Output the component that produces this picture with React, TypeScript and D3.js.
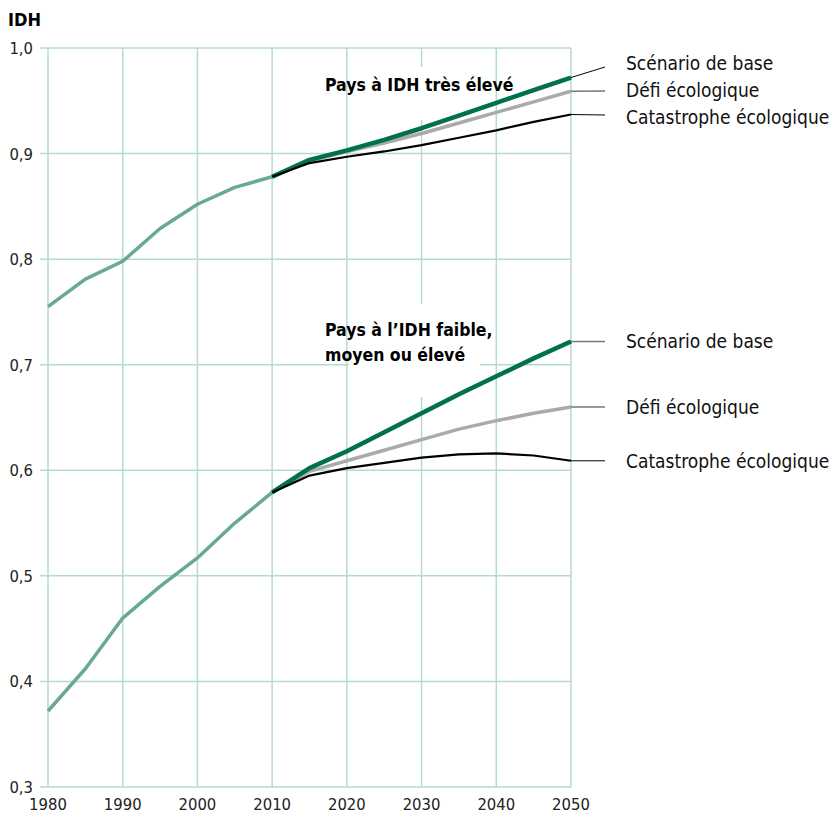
import { useMemo } from "react";
import * as d3 from "d3";

const WIDTH = 831;
const HEIGHT = 815;
const MARGIN = { top: 48, right: 260, bottom: 28, left: 48 };

const FONT = "'Liberation Sans Narrow', 'DejaVu Sans Condensed', 'Noto Sans', sans-serif";

const yearsHist = [1980, 1985, 1990, 1995, 2000, 2005, 2010];
const yearsProj = [2010, 2015, 2020, 2025, 2030, 2035, 2040, 2045, 2050];
const xTicks = [1980, 1990, 2000, 2010, 2020, 2030, 2040, 2050];
const yTicks = [0.3, 0.4, 0.5, 0.6, 0.7, 0.8, 0.9, 1.0];

// Pays à IDH très élevé
const highHist = [0.755, 0.781, 0.798, 0.829, 0.852, 0.868, 0.878];
const highBase = [0.878, 0.894, 0.903, 0.913, 0.924, 0.936, 0.948, 0.96, 0.972];
const highDefi = [0.878, 0.893, 0.902, 0.91, 0.919, 0.929, 0.939, 0.949, 0.959];
const highCata = [0.878, 0.891, 0.897, 0.902, 0.908, 0.915, 0.922, 0.93, 0.937];

// Pays à l'IDH faible, moyen ou élevé
const lowHist = [0.372, 0.412, 0.46, 0.49, 0.517, 0.55, 0.579];
const lowBase = [0.579, 0.602, 0.618, 0.636, 0.654, 0.672, 0.689, 0.706, 0.722];
const lowDefi = [0.579, 0.599, 0.609, 0.619, 0.629, 0.639, 0.647, 0.654, 0.66];
const lowCata = [0.579, 0.595, 0.602, 0.607, 0.612, 0.615, 0.616, 0.614, 0.609];

const scenarioNames = ["Scénario de base", "Défi écologique", "Catastrophe écologique"];

const COLORS = {
  grid: "#b5dbd1",
  hist: "#68a896",
  base: "#00704f",
  defi: "#aaaaaa",
  cata: "#000000",
};

type Pt = { x: number; y: number };

export default function App() {
  const x = useMemo(
    () => d3.scaleLinear().domain([1980, 2050]).range([MARGIN.left, WIDTH - MARGIN.right]),
    []
  );
  const y = useMemo(
    () => d3.scaleLinear().domain([0.3, 1.0]).range([HEIGHT - MARGIN.bottom, MARGIN.top]),
    []
  );
  const line = d3
    .line<Pt>()
    .x((d) => x(d.x))
    .y((d) => y(d.y));

  const toPts = (years: number[], vals: number[]) => years.map((yr, i) => ({ x: yr, y: vals[i] }));

  const xEnd = x(2050);
  const labelX = 626;

  // top group: labels are stacked, leader of the base line is slanted
  const highLabels = [
    { v: highBase[highBase.length - 1], ly: 67, ty: 70, stroke: "#000", sw: 1 },
    { v: highDefi[highDefi.length - 1], ly: 91, ty: 97, stroke: "#777", sw: 1.5 },
    { v: highCata[highCata.length - 1], ly: 115, ty: 124, stroke: "#000", sw: 1 },
  ];
  const lowLabels = [
    { v: lowBase[lowBase.length - 1], stroke: "#777", sw: 1.5 },
    { v: lowDefi[lowDefi.length - 1], stroke: "#777", sw: 1.5 },
    { v: lowCata[lowCata.length - 1], stroke: "#000", sw: 1 },
  ];

  const series = (hist: number[], base: number[], defi: number[], cata: number[]) => (
    <g>
      <path d={line(toPts(yearsHist, hist)) ?? ""} fill="none" stroke={COLORS.hist} strokeWidth={3.5} strokeLinejoin="round" />
      <path d={line(toPts(yearsProj, defi)) ?? ""} fill="none" stroke={COLORS.defi} strokeWidth={3.5} strokeLinejoin="round" />
      <path d={line(toPts(yearsProj, base)) ?? ""} fill="none" stroke={COLORS.base} strokeWidth={4.5} strokeLinejoin="round" />
      <path d={line(toPts(yearsProj, cata)) ?? ""} fill="none" stroke={COLORS.cata} strokeWidth={2.2} strokeLinejoin="round" />
    </g>
  );

  return (
    <svg width={WIDTH} height={HEIGHT} style={{ position: "absolute", left: 0, top: 0, background: "#fff" }} fontFamily={FONT}>
      <text x={8} y={26} fontSize={18} fontWeight="bold">IDH</text>

      {/* grid */}
      {yTicks.map((t) => (
        <g key={`y${t}`}>
          <line x1={MARGIN.left - 8} x2={xEnd} y1={y(t)} y2={y(t)} stroke={COLORS.grid} strokeWidth={1.5} />
          <text x={33} y={y(t) + 6} fontSize={16.5} textAnchor="end" fill="#222">
            {d3.format(".1f")(t).replace(".", ",")}
          </text>
        </g>
      ))}
      {xTicks.map((t) => (
        <g key={`x${t}`}>
          <line x1={x(t)} x2={x(t)} y1={y(1.0)} y2={y(0.3)} stroke={COLORS.grid} strokeWidth={1.5} />
          <text x={x(t)} y={810} fontSize={16.5} textAnchor="middle" fill="#222">{t}</text>
        </g>
      ))}

      {/* white knockouts behind annotation text */}
      <rect x={349} y={67} width={140} height={53} fill="#fff" />
      <rect x={349} y={304} width={131} height={93} fill="#fff" />

      {series(highHist, highBase, highDefi, highCata)}
      {series(lowHist, lowBase, lowDefi, lowCata)}

      <text x={325} y={91} fontSize={17.5} fontWeight="bold">Pays à IDH très élevé</text>
      <text x={325} y={336} fontSize={17.5} fontWeight="bold">Pays à l’IDH faible,</text>
      <text x={325} y={361} fontSize={17.5} fontWeight="bold">moyen ou élevé</text>

      {/* leaders and scenario labels */}
      {highLabels.map((d, i) => (
        <g key={`h${i}`}>
          <line x1={xEnd} y1={y(d.v)} x2={605} y2={d.ly} stroke={d.stroke} strokeWidth={d.sw} />
          <text x={labelX} y={d.ty} fontSize={19} fill="#111">
            {scenarioNames[i]}
          </text>
        </g>
      ))}
      {lowLabels.map((d, i) => (
        <g key={`l${i}`}>
          <line x1={xEnd} y1={y(d.v)} x2={605} y2={y(d.v)} stroke={d.stroke} strokeWidth={d.sw} />
          <text x={labelX} y={y(d.v) + 7} fontSize={19} fill="#111">
            {scenarioNames[i]}
          </text>
        </g>
      ))}
    </svg>
  );
}
